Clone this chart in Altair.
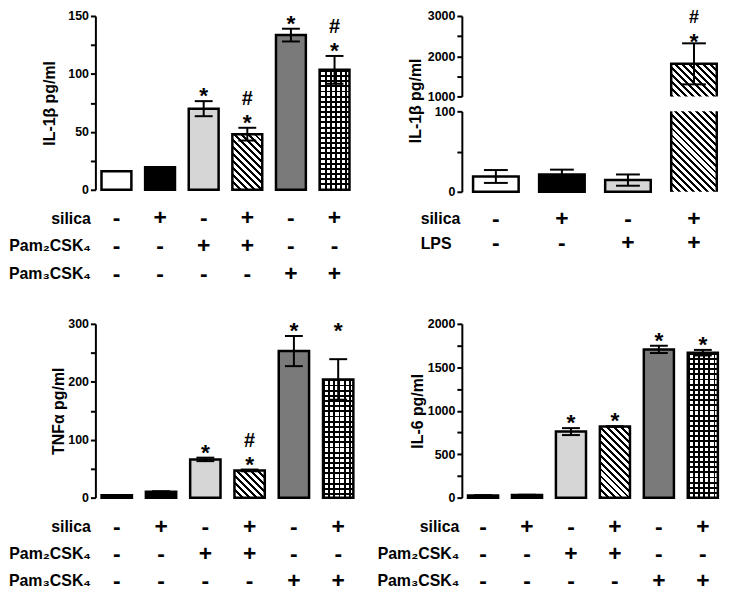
import altair as alt
import pandas as pd

FONT = "Liberation Sans"
SW = 2.5            # bar outline width
STIPPLE = "#d6d6d6"
GRAY = "#7a7a7a"

# ---------------- data ----------------
six = ["g1", "g2", "g3", "g4", "g5", "g6"]
four = ["g1", "g2", "g3", "g4"]

# IL-1beta, Pam2CSK4 / Pam3CSK4
a_vals = [16, 19.5, 70, 48, 133.5, 103.5]
a_errs = [0, 0, 6.5, 5.5, 5.5, 12]
a_star = [0, 0, 1, 1, 1, 1]
a_hash = [0, 0, 0, 1, 0, 1]
a_level = [None] * 6

# IL-1beta, LPS (broken axis)
b_vals = [19, 21.5, 14.5, 1810]
b_errs = [8, 6, 7, 510]
b_star = [0, 0, 0, 1]
b_hash = [0, 0, 0, 1]
b_level = [None] * 4

# TNFalpha
c_vals = [4, 10, 66, 47, 253, 204]
c_errs = [0.5, 1, 3, 1.5, 26, 35]
c_star = [0, 0, 1, 1, 1, 1]
c_hash = [0, 0, 0, 1, 0, 0]
c_level = [None, None, None, None, None, 279]

# IL-6
d_vals = [25, 30, 760, 818, 1706, 1668]
d_errs = [3, 3, 40, 4, 42, 32]
d_star = [0, 0, 1, 1, 1, 1]
d_hash = [0, 0, 0, 0, 0, 0]
d_level = [None] * 6

pam_rows = ["silica", "Pam\u2082CSK\u2084", "Pam\u2083CSK\u2084"]
pam_signs = [["-", "+", "-", "+", "-", "+"],
             ["-", "-", "+", "+", "-", "-"],
             ["-", "-", "-", "-", "+", "+"]]
lps_rows = ["silica", "LPS"]
lps_signs = [["-", "+", "-", "+"],
             ["-", "-", "+", "+"]]

six_styles = ["white", "black", "stipple", "hatch", "gray", "checker"]
four_styles = ["white", "black", "stipple", "hatch"]


def make_df(cats, vals, errs, stars, hashes, levels):
    return pd.DataFrame({
        "cat": cats, "value": vals, "err": errs,
        "lo": [v - e for v, e in zip(vals, errs)],
        "hi": [v + e for v, e in zip(vals, errs)],
        "star": stars, "hash": hashes,
        "mark": [l if l is not None else v + e for l, v, e in zip(levels, vals, errs)],
    })


# ---------------- pattern fills (SVG linear gradients) ----------------
def hatch(W, H, period=7.0, duty=0.42):
    k = (W + H) / (W * W + H * H)
    total = W + H
    stops, pos = [], 0.0
    while pos < total - 1e-9:
        a = pos / total
        b = min((pos + period * duty) / total, 1.0)
        c = min((pos + period) / total, 1.0)
        stops += [("black", a), ("black", b), ("white", b), ("white", c)]
        pos += period
    return {"gradient": "linear", "x1": 0, "y1": 1, "x2": k * W, "y2": 1 - k * H,
            "stops": [{"color": col, "offset": round(o, 5)} for col, o in stops]}


def stripes(L, horizontal, off, period=5.2, duty=0.36):
    stops, pos = [], 0.0
    while pos < L - 1e-9:
        a = pos / L
        b = min((pos + period * duty) / L, 1.0)
        c = min((pos + period) / L, 1.0)
        stops += [("black", a), ("black", b), (off, b), (off, c)]
        pos += period
    return {"gradient": "linear", "x1": 0, "y1": 0,
            "x2": 0 if horizontal else 1, "y2": 1 if horizontal else 0,
            "stops": [{"color": col, "offset": round(o, 5)} for col, o in stops]}


def fills(style, W, H, outline=True):
    st = {"stroke": "black", "strokeWidth": SW} if outline else {}
    if style == "white":
        return [dict(fill="white", **st)]
    if style == "black":
        return [dict(fill="black", **st)]
    if style == "stipple":
        return [dict(fill=STIPPLE, **st)]
    if style == "gray":
        return [dict(fill=GRAY, **st)]
    if style == "hatch":
        return [dict(fill=hatch(W, H), **st)]
    return [dict(fill=stripes(W, False, "white")),
            dict(fill=stripes(H, True, "rgba(0,0,0,0)"), **st)]


def xc(xs, pos=0.5):
    return alt.X("cat:N", scale=xs, axis=None, bandPosition=pos)


def err_layers(base, xs, ys, cap):
    b = base.transform_filter("datum.err > 0")
    return [
        b.mark_rule(color="black", strokeWidth=2).encode(
            x=xc(xs), y=alt.Y("lo:Q", scale=ys, axis=None), y2="hi:Q"),
        b.mark_tick(orient="horizontal", size=cap, thickness=2, color="black", opacity=1).encode(
            x=xc(xs), y=alt.Y("hi:Q", scale=ys, axis=None)),
        b.mark_tick(orient="horizontal", size=cap, thickness=2, color="black", opacity=1).encode(
            x=xc(xs), y=alt.Y("lo:Q", scale=ys, axis=None)),
    ]


def annot_layers(base, xs, ys, hash_dy=-23, star_dy=2, hash_size=20):
    return [
        base.transform_filter("datum.star == 1").mark_text(
            text="*", font=FONT, fontWeight="bold", fontSize=23, color="black",
            baseline="alphabetic", dy=star_dy).encode(x=xc(xs), y=alt.Y("mark:Q", scale=ys, axis=None)),
        base.transform_filter("datum.hash == 1").mark_text(
            text="#", font=FONT, fontWeight="bold", fontSize=hash_size, color="black",
            baseline="alphabetic", dy=hash_dy).encode(x=xc(xs), y=alt.Y("mark:Q", scale=ys, axis=None)),
    ]


def table_layer(cats, rows, signs, xs, H, offs, rpad, ralign="right"):
    tdf = pd.DataFrame([{"cat": c, "rname": r, "sign": signs[j][i]}
                        for j, r in enumerate(rows) for i, c in enumerate(cats)])
    return alt.Chart(tdf).mark_text(font=FONT, fontWeight="bold", fontSize=23, color="black",
                                    baseline="middle").encode(
        x=xc(xs),
        y=alt.Y("rname:N",
                scale=alt.Scale(type="point", domain=rows, range=[H + offs[0], H + offs[1]], padding=0),
                axis=alt.Axis(orient="left", domain=False, ticks=False, tickSize=0, labelPadding=rpad,
                              labelAlign=ralign, labelFontSize=16, title=None, labelBaseline="middle")),
        text="sign:N")


def xaxis():
    return alt.Axis(orient="bottom", labels=False, ticks=False, title=None, domainWidth=SW)


def std_panel(cats, df, styles, W, H, ydom, ystep, lstep, title, tpad, rows, signs, offs, rpad,
              pi=0.315, po=0.14, cap=18):
    n = len(cats)
    step = W / (n - pi + 2 * po)
    bw = step * (1 - pi)
    pxu = H / (ydom[1] - ydom[0])
    xs = alt.Scale(domain=cats, paddingInner=pi, paddingOuter=po)
    ys = alt.Scale(domain=ydom, nice=False, zero=False)
    yax = alt.Axis(orient="left", values=list(range(ydom[0], ydom[1] + 1, ystep)), format="d",
                   labelExpr=f"datum.value % {lstep} === 0 ? datum.label : ''",
                   title=title, titlePadding=tpad)
    base = alt.Chart(df)
    layers, first = [], True
    for c, st, v in zip(cats, styles, df["value"]):
        for props in fills(st, bw, v * pxu):
            layers.append(base.transform_filter(alt.datum.cat == c).mark_bar(**props).encode(
                x=alt.X("cat:N", scale=xs, axis=xaxis() if first else None),
                y=alt.Y("value:Q", scale=ys, axis=yax if first else None)))
            first = False
    layers += err_layers(base, xs, ys, cap)
    layers += annot_layers(base, xs, ys)
    tab = table_layer(cats, rows, signs, xs, H, offs, rpad)
    return alt.layer(*layers, tab).resolve_scale(y="independent").properties(width=W, height=H)


# ---------------- panel B (broken axis) ----------------
def panel_b():
    W, H = 268, 177
    pi, po = 0.31, 0.17
    step = W / (4 - pi + 2 * po)
    bw = step * (1 - pi)
    xs = alt.Scale(domain=four, paddingInner=pi, paddingOuter=po)
    ys_u = alt.Scale(domain=[1000, 3000], range=[81, 0], nice=False, zero=False)
    ys_l = alt.Scale(domain=[0, 100], range=[177, 96], nice=False, zero=False)
    df = make_df(four, b_vals, b_errs, b_star, b_hash, b_level)
    base = alt.Chart(df).transform_calculate(yl="min(datum.value, 100)", ub="1000", zero="0")

    ax_l = alt.Axis(orient="left", values=[0, 50, 100], format="d",
                    labelExpr="datum.value === 50 ? '' : datum.label", title=None)
    ax_u = alt.Axis(orient="left", values=[1000, 1500, 2000, 2500, 3000], format="d",
                    labelExpr="datum.value % 1000 === 0 ? datum.label : ''",
                    title="IL-1\u03b2 pg/ml", titlePadding=4, titleY=85)

    layers, first = [], True
    for c, st, v in zip(four[:3], four_styles[:3], b_vals[:3]):
        for props in fills(st, bw, v * 0.81):
            layers.append(base.transform_filter(alt.datum.cat == c).mark_bar(**props).encode(
                x=alt.X("cat:N", scale=xs, axis=xaxis() if first else None),
                y=alt.Y("yl:Q", scale=ys_l, axis=ax_l if first else None)))
            first = False
    b4 = base.transform_filter(alt.datum.cat == four[3])
    layers.append(b4.mark_bar(**fills("hatch", bw, 81, outline=False)[0]).encode(
        x=alt.X("cat:N", scale=xs, axis=None), y=alt.Y("yl:Q", scale=ys_l, axis=None), y2="zero:Q"))
    for pos in (0, 1):
        layers.append(b4.mark_rule(color="black", strokeWidth=SW).encode(
            x=xc(xs, pos), y=alt.Y("zero:Q", scale=ys_l, axis=None), y2="yl:Q"))
    layers += err_layers(base.transform_filter(alt.datum.cat != four[3]), xs, ys_l, 24)

    hu = (b_vals[3] - 1000) * 81 / 2000
    layers.append(b4.mark_bar(**fills("hatch", bw, hu, outline=False)[0]).encode(
        x=alt.X("cat:N", scale=xs, axis=None), y=alt.Y("value:Q", scale=ys_u, axis=ax_u), y2="ub:Q"))
    for pos in (0, 1):
        layers.append(b4.mark_rule(color="black", strokeWidth=SW).encode(
            x=xc(xs, pos), y=alt.Y("ub:Q", scale=ys_u, axis=None), y2="value:Q"))
    layers.append(b4.mark_tick(orient="horizontal", size=bw + SW, thickness=SW, color="black", opacity=1).encode(
        x=xc(xs), y=alt.Y("value:Q", scale=ys_u, axis=None)))
    layers += err_layers(b4, xs, ys_u, 24)
    layers += annot_layers(b4, xs, ys_u, hash_dy=-20, star_dy=5.5, hash_size=18)

    tab = table_layer(four, lps_rows, lps_signs, xs, H, (27, 52), 42, ralign="left")
    return alt.layer(*layers, tab).resolve_scale(y="independent").properties(width=W, height=H)


pA = std_panel(six, make_df(six, a_vals, a_errs, a_star, a_hash, a_level), six_styles,
               262, 175, [0, 150], 25, 50, "IL-1\u03b2 pg/ml", 10, pam_rows, pam_signs, (28.5, 84.5), 5)
pB = panel_b()
pC = std_panel(six, make_df(six, c_vals, c_errs, c_star, c_hash, c_level), six_styles,
               266, 175, [0, 300], 50, 100, "TNF\u03b1 pg/ml", 1, pam_rows, pam_signs, (29.5, 83.5), 5)
pD = std_panel(six, make_df(six, d_vals, d_errs, d_star, d_hash, d_level), six_styles,
               264, 175, [0, 2000], 250, 500, "IL-6 pg/ml", 2, pam_rows, pam_signs, (29.5, 83.5), 3)

chart = alt.concat(pA, pB, pC, pD, columns=2, spacing={"row": 133, "column": 103},
                   bounds="flush").properties(
    padding={"left": 0, "top": -1, "right": 0, "bottom": 0}
).configure_view(strokeWidth=0).configure_axis(
    grid=False, labelFont=FONT, titleFont=FONT, labelFontWeight="bold", titleFontWeight="bold",
    labelColor="black", titleColor="black", domainColor="black", tickColor="black",
    domainWidth=2, tickWidth=2, tickSize=5, labelFontSize=12.5, titleFontSize=16, labelPadding=2
)

chart.save("out.html", embed_options={"renderer": "svg", "actions": False})
